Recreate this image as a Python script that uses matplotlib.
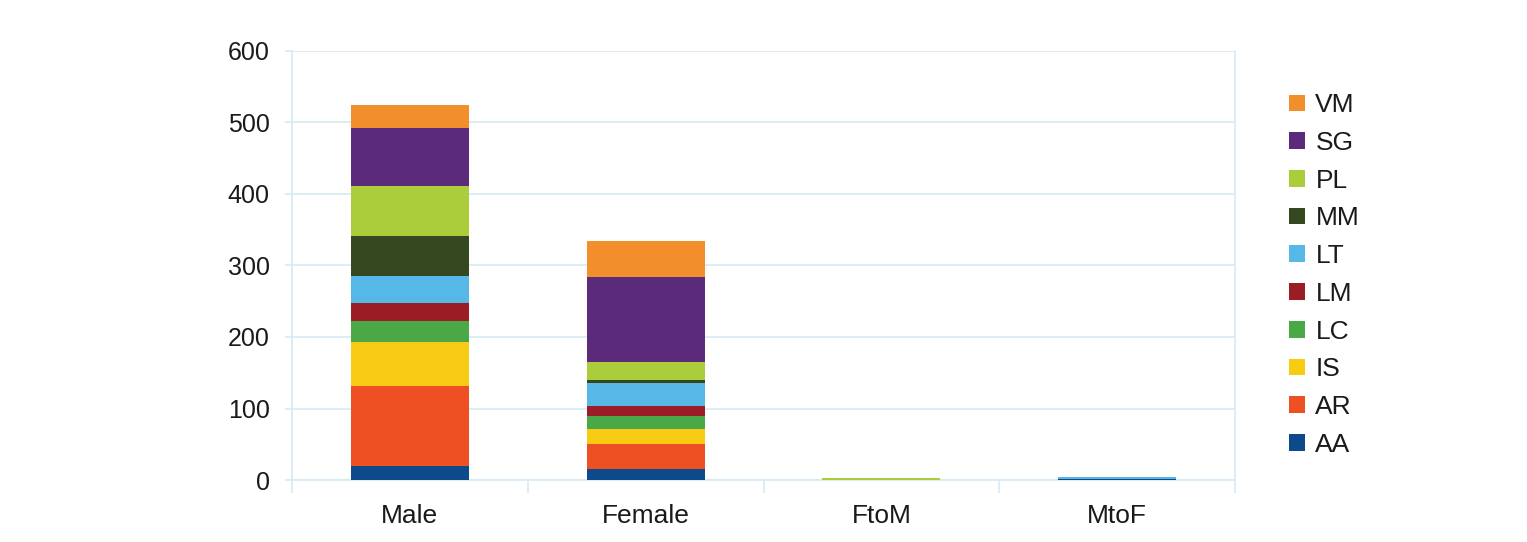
import matplotlib
matplotlib.use("Agg")
import matplotlib.pyplot as plt
import numpy as np

plt.rcParams['font.family'] = ['Liberation Sans', 'DejaVu Sans']

categories = ["Male", "Female", "FtoM", "MtoF"]
series = ["AA", "AR", "IS", "LC", "LM", "LT", "MM", "PL", "SG", "VM"]
AA = [20, 15, 0, 2]
AR = [112, 36, 0, 0]
IS = [61, 20, 0, 0]
LC = [29, 19, 0, 0]
LM = [26, 13, 0, 0]
LT = [38, 32, 0, 2]
MM = [55, 5, 0, 0]
PL = [70, 25, 3, 0]
SG = [82, 119, 0, 0]
VM = [32, 50, 0, 0]
values = [AA, AR, IS, LC, LM, LT, MM, PL, SG, VM]
colors = ["#0d4a8c", "#ef5023", "#f7cb13", "#4aa847", "#9b1c24",
          "#55b8e6", "#364820", "#abcd3b", "#5b2a7a", "#f28e2b"]
yticks = [0, 100, 200, 300, 400, 500, 600]

fig = plt.figure(figsize=(15.27, 5.42), dpi=100)
ax = fig.add_axes([292/1527, 62/542, (1235-292)/1527, (480-51)/542])

x = np.arange(len(categories))
bottom = np.zeros(len(categories))
handles = []
for name, vals, c in zip(series, values, colors):
    h = ax.bar(x, vals, width=0.5, bottom=bottom, color=c, label=name,
               linewidth=0, zorder=3)
    handles.append(h)
    bottom += np.array(vals)

grid_c = "#d6eaf4"
ax.set_xlim(-0.5, len(categories) - 0.5)
ax.set_ylim(0, 600)
ax.set_yticks(yticks)
ax.set_yticklabels([str(t) for t in yticks], fontsize=18, color="#1a1a1a")
ax.set_xticks(x)
ax.set_xticklabels(categories, fontsize=19, color="#1a1a1a")
ax.set_xticks(np.arange(-0.5, len(categories), 1.0), minor=True)
ax.tick_params(axis='x', which='major', length=0, pad=17)
ax.tick_params(axis='x', which='minor', length=9, color=grid_c, width=1.2)
ax.tick_params(axis='y', length=5, color=grid_c, width=1.2, pad=11)
ax.yaxis.grid(True, color=grid_c, linewidth=1.2, zorder=0)
for s in ["left", "bottom", "right"]:
    ax.spines[s].set_color(grid_c)
    ax.spines[s].set_linewidth(1.2)
ax.spines["top"].set_visible(False)

leg = ax.legend(handles[::-1], series[::-1], loc='center left',
                bbox_to_anchor=(1289/1527, (542-275)/542), bbox_transform=fig.transFigure,
                frameon=False, fontsize=19, handlelength=0.6, handleheight=0.6,
                handletextpad=0.4, labelspacing=0.52, borderaxespad=0,
                borderpad=0)
for t in leg.get_texts():
    t.set_color("#1a1a1a")

fig.savefig("out.png", dpi=100)
